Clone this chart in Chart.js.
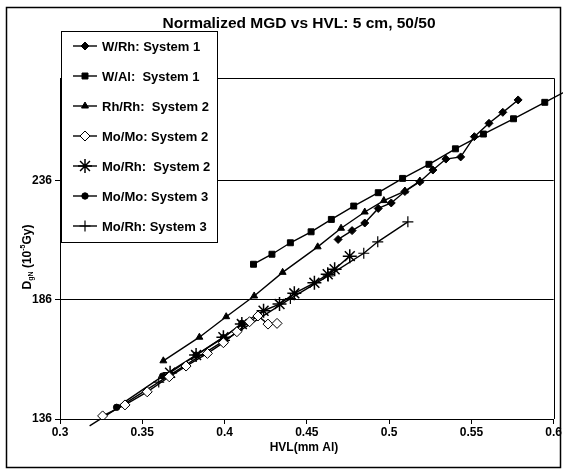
<!DOCTYPE html>
<html>
<head>
<meta charset="utf-8">
<script src="https://cdn.jsdelivr.net/npm/chart.js@4/dist/chart.umd.min.js"></script>
<style>
  html, body { margin: 0; padding: 0; background: #fff; }
  canvas { display: block; }
</style>
</head>
<body>
<canvas id="chart" width="563" height="474"></canvas>
<script>
const xTicks = [0.3, 0.35, 0.4, 0.45, 0.5, 0.55, 0.6]
const yTicks = [136, 186, 236]

const labels = [
  "W/Rh: System 1",
  "W/Al:  System 1",
  "Rh/Rh:  System 2",
  "Mo/Mo: System 2",
  "Mo/Rh:  System 2",
  "Mo/Mo: System 3",
  "Mo/Rh: System 3",
]

const wRhX = [0.469, 0.4775, 0.4852, 0.4934, 0.5013, 0.5096, 0.5187, 0.5266, 0.5345, 0.5435, 0.5518, 0.5607, 0.5691, 0.5784]
const wRhY = [211.3, 215.0, 218.2, 224.3, 226.6, 231.4, 235.5, 240.4, 245.0, 245.9, 254.4, 260.0, 264.6, 269.8]

const wAlX = [0.4176, 0.4288, 0.44, 0.4526, 0.4649, 0.4785, 0.4934, 0.5082, 0.5242, 0.5403, 0.5573, 0.5756, 0.5946, 0.62]
const wAlY = [200.9, 205.1, 209.9, 214.5, 219.7, 225.3, 230.9, 236.9, 242.8, 249.3, 255.5, 261.9, 268.8, 278.0]

const rhRhX = [0.3628, 0.3847, 0.401, 0.418, 0.4353, 0.4566, 0.4708, 0.4852, 0.4968, 0.5096, 0.5187]
const rhRhY = [160.4, 170.3, 178.9, 187.6, 197.5, 208.2, 216.0, 222.8, 227.6, 231.6, 235.8]

const moMo2X = [0.3259, 0.3395, 0.353, 0.3664, 0.3766, 0.3896, 0.3993, 0.4075, 0.4152, 0.4203, 0.4264, 0.4319]
const moMo2Y = [137.3, 141.9, 147.4, 153.7, 158.2, 163.5, 168.0, 172.6, 176.8, 179.2, 175.8, 176.1]

const moRh2X = [0.3669, 0.3827, 0.3993, 0.4105, 0.4237, 0.4334, 0.4424, 0.4546, 0.4627, 0.4669, 0.4761]
const moRh2Y = [155.4, 162.8, 170.3, 175.8, 181.4, 184.2, 188.7, 193.1, 196.7, 198.8, 204.3]

const moMo3X = [0.3344, 0.3624, 0.3827, 0.3993, 0.4105]
const moMo3Y = [140.9, 154.0, 162.8, 170.1, 176.1]

const moRh3X = [0.318, 0.36, 0.40, 0.44, 0.463, 0.4846, 0.4931, 0.5114]
const moRh3Y = [133.1, 151.5, 169.0, 186.5, 196.0, 205.5, 210.3, 218.7]

const pts = (xs, ys) => xs.map((x, i) => ({ x, y: ys[i] }))

const styles = [
  { pointStyle: "rectRot", pointRadius: 4, fill: "#000", bw: 1 },
  { pointStyle: "rect", pointRadius: 4.2, fill: "#000", bw: 1 },
  { pointStyle: "triangle", pointRadius: 4, fill: "#000", bw: 1 },
  { pointStyle: "rectRot", pointRadius: 5, fill: "#fff", bw: 1 },
  { pointStyle: "star", pointRadius: 7, fill: "#000", bw: 1.5 },
  { pointStyle: "circle", pointRadius: 3.2, fill: "#000", bw: 1 },
  { pointStyle: "cross", pointRadius: 5.5, fill: "#000", bw: 1.2 },
]

const series = [
  pts(wRhX, wRhY),
  pts(wAlX, wAlY),
  pts(rhRhX, rhRhY),
  pts(moMo2X, moMo2Y),
  pts(moRh2X, moRh2Y),
  pts(moMo3X, moMo3Y),
  pts(moRh3X, moRh3Y),
]

const datasets = series.map((data, i) => ({
  label: labels[i],
  data,
  borderColor: "#000",
  borderWidth: 1.4,
  backgroundColor: styles[i].fill,
  pointBackgroundColor: styles[i].fill,
  pointBorderColor: "#000",
  pointBorderWidth: styles[i].bw,
  pointStyle: styles[i].pointStyle,
  // the first Mo/Rh System 3 point lies below the axis, no marker shown there
  pointRadius: i === 6 ? data.map((p, j) => (j === 0 ? 0 : styles[i].pointRadius)) : styles[i].pointRadius,
  showLine: true,
  tension: 0,
  clip: i === 1 ? { left: 0, top: 0, right: 12, bottom: 0 } : i === 6 ? { left: 0, top: 0, right: 0, bottom: 10 } : 0,
}))

const FONT = "'Liberation Sans', Arial, sans-serif"

function marker(ctx, st, x, y) {
  if (Chart.helpers && Chart.helpers.drawPoint) {
    ctx.fillStyle = st.fill
    ctx.strokeStyle = "#000"
    ctx.lineWidth = st.bw
    Chart.helpers.drawPoint(ctx, { pointStyle: st.pointStyle, radius: st.pointRadius, rotation: 0, borderWidth: st.bw }, x, y)
  }
}

const decor = {
  id: "decor",
  beforeDatasetsDraw(chart) {
    const { ctx, chartArea: a } = chart
    ctx.save()
    ctx.strokeStyle = "#000"
    ctx.lineWidth = 1
    ctx.beginPath()
    ctx.moveTo(a.left, Math.round(a.top) + 0.5)
    ctx.lineTo(Math.round(a.right) + 0.5, Math.round(a.top) + 0.5)
    ctx.lineTo(Math.round(a.right) + 0.5, a.bottom)
    ctx.stroke()
    ctx.restore()
  },
  afterDraw(chart) {
    const { ctx } = chart
    ctx.save()
    // outer frame
    ctx.strokeStyle = "#000"
    ctx.lineWidth = 1.5
    ctx.strokeRect(6.5, 7.5, 554, 460)

    // title
    ctx.fillStyle = "#000"
    ctx.textAlign = "center"
    ctx.textBaseline = "alphabetic"
    ctx.font = "bold 15.5px " + FONT
    ctx.fillText("Normalized MGD vs HVL: 5 cm, 50/50", 299, 28)

    // x axis title
    ctx.font = "bold 12px " + FONT
    ctx.textBaseline = "middle"
    ctx.fillText("HVL(mm Al)", 304, 448)

    // y axis title, rotated, with sub/superscripts
    ctx.save()
    ctx.translate(28, 257)
    ctx.rotate(-Math.PI / 2)
    const parts = [
      { t: "D", f: "bold 12px ", dy: 0 },
      { t: "gN", f: "bold 7px ", dy: 3 },
      { t: " (10", f: "bold 12px ", dy: 0 },
      { t: "-5", f: "bold 7px ", dy: -5 },
      { t: "Gy)", f: "bold 12px ", dy: 0 },
    ]
    let total = 0
    parts.forEach((p) => { ctx.font = p.f + FONT; p.w = ctx.measureText(p.t).width; total += p.w })
    let px = -total / 2
    ctx.textAlign = "left"
    ctx.textBaseline = "middle"
    parts.forEach((p) => { ctx.font = p.f + FONT; ctx.fillText(p.t, px, p.dy); px += p.w })
    ctx.restore()

    // legend box
    ctx.fillStyle = "#fff"
    ctx.fillRect(61.5, 31.5, 156, 211)
    ctx.lineWidth = 1
    ctx.strokeStyle = "#000"
    ctx.strokeRect(61.5, 31.5, 156, 211)
    labels.forEach((lab, i) => {
      const y = 46 + i * 30
      ctx.strokeStyle = "#000"
      ctx.lineWidth = 1.4
      ctx.beginPath()
      ctx.moveTo(73, y)
      ctx.lineTo(97, y)
      ctx.stroke()
      marker(ctx, styles[i], 85, y)
      ctx.fillStyle = "#000"
      ctx.font = "bold 13px " + FONT
      ctx.textAlign = "left"
      ctx.textBaseline = "middle"
      ctx.fillText(lab, 102, y + 1)
    })
    ctx.restore()
  },
}

new Chart(document.getElementById("chart"), {
  type: "scatter",
  data: { datasets },
  options: {
    animation: false,
    responsive: false,
    devicePixelRatio: 1,
    layout: { padding: { top: 78, right: 9, bottom: 0, left: 0 } },
    plugins: {
      legend: { display: false },
      title: { display: false },
      tooltip: { enabled: false },
    },
    events: [],
    scales: {
      x: {
        type: "linear",
        min: 0.3,
        max: 0.6,
        afterBuildTicks: (s) => { s.ticks = xTicks.map((v) => ({ value: v })) },
        afterFit: (s) => { s.height = 55 },
        ticks: {
          color: "#000",
          font: { family: FONT, size: 12, weight: "bold" },
          padding: 1,
          maxRotation: 0,
          callback: (v) => String(+(+v).toFixed(2)),
        },
        grid: { drawOnChartArea: false, drawTicks: true, tickLength: 5, color: "#000" },
        border: { color: "#000", width: 1 },
      },
      y: {
        type: "linear",
        min: 136,
        max: 279,
        afterBuildTicks: (s) => { s.ticks = yTicks.map((v) => ({ value: v })) },
        afterFit: (s) => { s.width = 60 },
        ticks: {
          color: "#000",
          font: { family: FONT, size: 12, weight: "bold" },
          padding: 3,
        },
        grid: { color: "#000", lineWidth: 1, drawTicks: true, tickLength: 5 },
        border: { color: "#000", width: 1 },
      },
    },
  },
  plugins: [decor],
})
</script>
</body>
</html>
